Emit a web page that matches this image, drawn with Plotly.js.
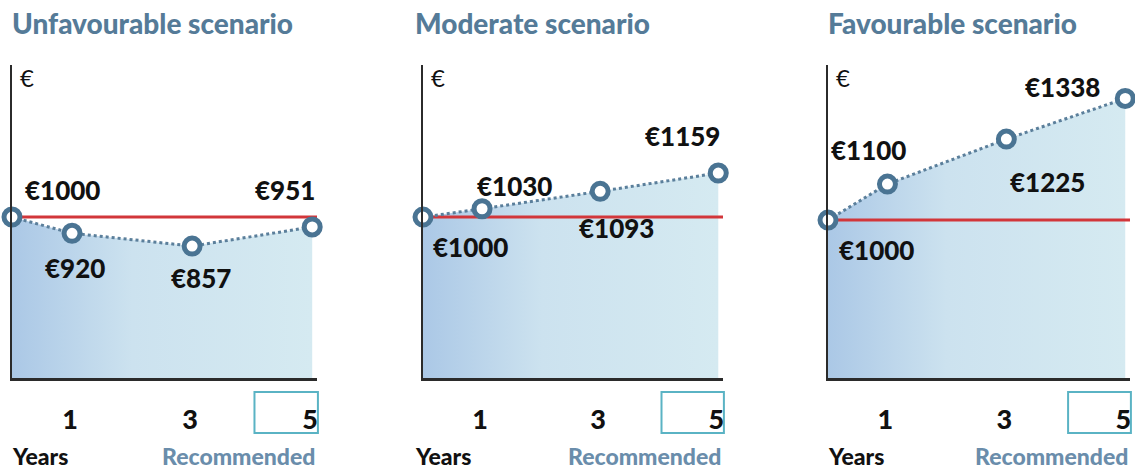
<!DOCTYPE html>
<html>
<head>
<meta charset="utf-8">
<script src="https://cdn.plot.ly/plotly-3.0.1.min.js"></script>
<style>html,body{margin:0;padding:0;background:#fff;}#chart{width:1135px;height:474px;}</style>
</head>
<body>
<div id="chart"></div>
<script>
// ---- data ----
const years = [0, 1, 3, 5];
const unfavourable = [1000, 920, 857, 951];
const moderate = [1000, 1030, 1093, 1159];
const favourable = [1000, 1100, 1225, 1338];
const baseline = 1000;
const scenarioTitles = ['Unfavourable scenario', 'Moderate scenario', 'Favourable scenario'];
const tickYears = [1, 3, 5];
const tickLabels = ['1', '3', '5'];
const currencyLabel = '€';
const yearsLabel = 'Years';
const recommendedLabel = 'Recommended';

// ---- style / layout config ----
const W = 1135, H = 474;
const FONT = 'Lato, "Open Sans", sans-serif';
const HEAVY = 900;
const panels = [
  {values: unfavourable, dom: [12, 317], yr: [207, 1749], titleX: 10,
   offs: [[50, 27], [3, -35], [9, -32], [-27, 37]]},
  {values: moderate, dom: [423, 723], yr: [419, 1549], titleX: 413,
   offs: [[47, -30], [32, 23], [16, -37], [-36, 37]]},
  {values: favourable, dom: [828, 1130], yr: [561, 1431], titleX: 826,
   offs: [[48, -30], [-19, 34], [41, -43], [-63, 11]]}
];
const xRange = [0, 5.08];
const plotTop = 65, plotBottom = 378;
const yDomain = [(H - plotBottom) / H, (H - plotTop) / H];
const titleColor = '#557b98';
const recColor = '#6a8dab';
const markerColor = '#4a7493';
const dotColor = '#5b7f9b';
const redColor = '#d2363a';
const axisColor = '#2b2b2b';
const boxColor = '#5ab3c4';

const traces = [];
const annotations = [];
const shapes = [];
const layout = {
  width: W, height: H,
  margin: {l: 0, r: 0, t: 0, b: 0},
  paper_bgcolor: '#fff', plot_bgcolor: 'rgba(0,0,0,0)',
  showlegend: false,
  font: {family: FONT, color: '#111'},
  annotations: annotations,
  shapes: shapes
};

panels.forEach((p, i) => {
  const n = i === 0 ? '' : String(i + 1);
  const xa = 'x' + n, ya = 'y' + n;
  layout['xaxis' + n] = {
    domain: [p.dom[0] / W, p.dom[1] / W], anchor: ya, range: xRange,
    showgrid: false, zeroline: false, showline: true, linecolor: axisColor, linewidth: 2.5,
    tickvals: tickYears, ticktext: tickLabels, ticks: '',
    tickfont: {family: FONT, size: 27, color: '#111', weight: HEAVY},
    ticklabelstandoff: 16, ticklabelshift: -2, fixedrange: true
  };
  layout['yaxis' + n] = {
    domain: yDomain, anchor: xa, range: p.yr,
    showgrid: false, zeroline: false, showline: true, linecolor: axisColor, linewidth: 2.5,
    showticklabels: false, ticks: '', fixedrange: true
  };
  // gradient fill under the projection
  traces.push({
    x: years, y: p.values, xaxis: xa, yaxis: ya, type: 'scatter', mode: 'none',
    fill: 'tozeroy',
    fillgradient: {type: 'horizontal', colorscale: [[0, '#abc8e6'], [0.4, '#cce2ef'], [1, '#d5eaf1']]},
    hoverinfo: 'skip'
  });
  // red baseline (invested amount)
  traces.push({
    x: xRange, y: [baseline, baseline], xaxis: xa, yaxis: ya, type: 'scatter', mode: 'lines',
    line: {color: redColor, width: 3}, hoverinfo: 'skip', cliponaxis: false
  });
  // dotted projection with markers
  traces.push({
    x: years, y: p.values, xaxis: xa, yaxis: ya, type: 'scatter', mode: 'lines+markers',
    line: {color: dotColor, width: 3, dash: 'dot'},
    marker: {symbol: 'circle', size: 16, color: '#ffffff', line: {color: markerColor, width: 5}},
    cliponaxis: false, hoverinfo: 'skip'
  });
  // value labels
  p.values.forEach((v, k) => {
    annotations.push({
      x: years[k], y: v, xref: xa, yref: ya, text: '€' + v, showarrow: false,
      xshift: p.offs[k][0], yshift: p.offs[k][1],
      font: {family: FONT, size: 26, color: '#111', weight: HEAVY}
    });
  });
  // title
  annotations.push({
    x: p.titleX / W, y: (H - 23) / H, xref: 'paper', yref: 'paper', xanchor: 'left', yanchor: 'middle',
    text: scenarioTitles[i], showarrow: false,
    font: {family: FONT, size: 28, color: titleColor, weight: HEAVY}
  });
  // currency label at top of y axis
  annotations.push({
    x: 0, y: 1, xref: xa + ' domain', yref: ya + ' domain', xanchor: 'left', yanchor: 'top',
    xshift: 6, yshift: 4, text: currencyLabel, showarrow: false,
    font: {family: FONT, size: 24, color: '#111'}
  });
  // Years / Recommended
  annotations.push({
    x: p.titleX / W, y: 2 / H, xref: 'paper', yref: 'paper', xanchor: 'left', yanchor: 'bottom',
    text: yearsLabel, showarrow: false, font: {family: FONT, size: 23, color: '#111', weight: HEAVY}
  });
  annotations.push({
    x: 1, y: 2 / H, xref: xa + ' domain', yref: 'paper', xanchor: 'right', yanchor: 'bottom',
    text: recommendedLabel, showarrow: false, font: {family: FONT, size: 23, color: recColor, weight: HEAVY}
  });
  // box around recommended holding period tick
  shapes.push({
    type: 'rect', xref: xa + ' domain', yref: ya + ' domain',
    x0: 0.795, x1: 1.003, y0: -0.045, y1: -0.176,
    line: {color: boxColor, width: 2}, fillcolor: 'rgba(0,0,0,0)'
  });
});

Plotly.newPlot('chart', traces, layout, {displayModeBar: false, staticPlot: true});
</script>
</body>
</html>
